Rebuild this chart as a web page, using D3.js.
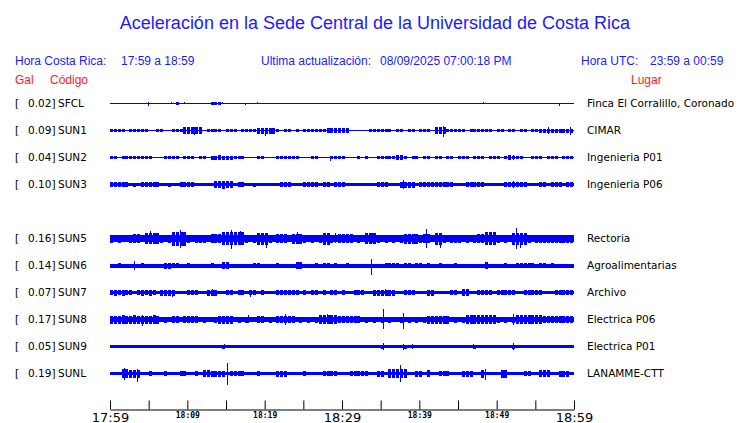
<!DOCTYPE html>
<html>
<head>
<meta charset="utf-8">
<script src="https://cdn.jsdelivr.net/npm/d3@7/dist/d3.min.js"></script>
<style>
  body { margin: 0; background: #fff; }
  svg { display: block; }
</style>
</head>
<body>
<script>
// station slots top to bottom (SUN4 has no trace, it leaves a gap)
const slots = ["SFCL", "SUN1", "SUN2", "SUN3", "SUN4", "SUN5", "SUN6", "SUN7", "SUN8", "SUN9", "SUNL"];
const codes = ["SFCL", "SUN1", "SUN2", "SUN3", "SUN5", "SUN6", "SUN7", "SUN8", "SUN9", "SUNL"];
const gal = [0.02, 0.09, 0.04, 0.10, 0.16, 0.14, 0.07, 0.17, 0.05, 0.19];
const places = ["Finca El Corralillo, Coronado", "CIMAR", "Ingenieria P01", "Ingenieria P06",
  "Rectoria", "Agroalimentarias", "Archivo", "Electrica P06", "Electrica P01", "LANAMME-CTT"];

// time axis, minutes after 17:59
const tickMinutes = [0, 5, 10, 15, 20, 25, 30, 35, 40, 45, 50, 55, 60];
const tickLabels = {0: "17:59", 10: "18:09", 20: "18:19", 30: "18:29", 40: "18:39", 50: "18:49", 60: "18:59"};
const bigTicks = [0, 30, 60];

// envelope of each trace, one value per 30 s (relative amplitude)
const envSFCL = [
  1,1,1,1,1,1,1,1,1,1, 1,1,1,1,1,1,1,3,1,1, 1,1,1,1,1,1,3,3,3,1, 1,1,1,1,1,1,1,1,1,1,
  1,1,1,1,1,1,1,1,1,1, 1,1,1,1,1,1,1,1,1,1, 1,1,1,1,1,1,1,1,1,1, 1,1,1,1,1,1,1,1,1,1,
  1,1,1,1,1,1,1,1,1,1, 1,1,1,1,1,1,1,1,1,1, 1,1,1,1,1,1,1,1,1,1, 1,1,1,1,1,1,1,1,1,1];
const envSUN1 = [
  3,3,3,3,1,3,3,3,3,3, 1,1,3,3,1,1,3,3,3,7, 7,7,7,7,1,3,3,3,3,1, 3,3,3,1,3,3,3,3,6,6,
  6,6,6,3,1,3,3,1,3,1, 3,3,3,3,3,3,5,5,5,5, 5,5,1,1,1,1,1,3,3,3, 3,3,3,1,3,3,1,3,3,1,
  3,3,3,1,7,7,7,3,3,3, 3,3,1,3,3,3,3,3,3,1, 3,3,1,3,3,1,3,3,1,3, 3,4,4,4,4,4,4,4,4,4];
const envSUN2 = [
  3,3,1,3,3,3,3,3,3,3, 3,1,1,1,3,3,3,3,1,3, 3,3,1,3,3,1,4,4,5,4, 4,4,3,3,3,1,1,1,3,3,
  1,1,1,3,3,3,3,3,3,1, 1,1,3,3,1,1,1,3,3,3, 3,1,1,1,3,1,3,1,1,3, 3,3,3,3,5,5,3,1,3,3,
  1,3,3,1,3,3,1,3,3,1, 3,3,3,1,3,3,3,1,3,3, 3,1,3,5,3,3,3,1,1,3, 3,3,1,3,3,3,1,3,3,3];
const envSUN3 = [
  5,5,5,5,5,3,4,3,5,5, 5,5,5,3,3,4,3,3,5,5, 5,5,3,3,3,3,3,7,7,8, 7,7,3,5,5,3,3,4,3,3,
  3,3,3,3,5,5,5,3,3,3, 5,5,5,5,3,5,5,3,5,5, 5,3,3,3,3,3,3,3,3,5, 5,5,3,3,3,6,6,6,6,3,
  5,5,5,5,5,5,5,5,5,3, 3,3,5,5,5,5,5,3,3,3, 3,3,5,5,5,5,5,5,3,3, 3,5,5,3,5,5,5,3,5,5];
const envSUN5 = [
  8,7,8,7,7,8,9,9,7,11, 11,11,11,8,7,8,14,14,14,14, 8,7,8,8,8,7,9,9,9,13, 13,13,13,13,13,8,7,8,12,12,
  12,8,7,9,9,9,7,10,10,10, 8,7,8,7,8,12,12,8,7,9, 9,9,9,7,8,7,11,11,11,8, 7,8,7,8,7,8,10,10,10,10,
  8,9,9,7,12,12,8,7,8,8, 8,7,8,7,8,9,9,13,13,13, 8,7,8,7,12,12,12,12,8,7, 8,8,8,8,8,8,8,8,8,8];
const envSUN6 = [
  4,4,5,4,4,4,4,4,5,4, 4,4,4,4,6,6,5,5,4,4, 5,4,4,4,4,4,5,4,4,7, 7,4,4,4,4,4,4,5,5,4,
  4,4,4,5,4,4,4,4,7,7, 4,4,4,5,4,5,5,4,5,4, 4,5,4,4,4,4,4,4,4,4, 4,5,5,5,5,4,5,5,4,5,
  5,4,5,4,4,5,4,4,4,5, 4,4,4,4,4,4,4,7,4,4, 4,4,5,4,4,5,5,5,5,5, 4,5,5,4,5,4,4,4,4,4];
const envSUN7 = [
  5,6,5,6,5,5,3,5,6,5, 6,5,3,6,6,6,6,3,3,3, 5,5,5,3,3,6,6,6,3,3, 5,5,3,5,5,3,5,5,3,5,
  3,3,3,5,5,5,5,5,5,3, 5,3,5,5,3,5,3,5,5,3, 5,3,3,5,5,5,3,3,6,6, 6,6,6,6,3,3,5,5,5,3,
  3,3,6,6,3,3,3,3,5,5, 3,7,7,3,3,5,5,5,5,3, 5,5,5,5,5,3,3,5,5,5, 5,5,3,3,3,5,5,5,5,5];
const envSUN8 = [
  8,8,8,9,8,8,9,8,8,8, 8,9,8,5,6,5,7,7,5,7, 7,7,7,5,6,5,5,6,8,8, 8,8,5,6,5,6,5,5,7,7,
  5,6,5,7,7,7,7,7,5,6, 5,6,5,6,9,9,9,9,9,7, 7,7,7,7,7,5,6,5,6,5, 6,5,6,5,5,6,5,6,5,6,
  5,6,8,8,8,8,8,8,5,6, 5,6,9,9,9,9,9,9,9,9, 6,5,6,5,6,9,9,9,9,9, 9,9,7,7,7,7,7,7,7,7];
const envSUN9 = [
  3,3,3,3,3,3,3,3,3,3, 3,3,3,3,3,3,3,3,3,3, 3,3,3,3,3,3,3,3,3,4, 3,3,3,3,3,3,3,3,3,3,
  3,3,3,3,3,3,3,3,3,3, 3,3,3,3,3,3,3,3,3,3, 3,3,3,3,3,3,3,3,3,3, 4,3,3,3,3,3,4,3,3,3,
  3,3,3,3,3,3,3,3,3,3, 3,3,3,3,4,3,3,3,3,3, 3,3,3,3,4,3,3,3,3,3, 3,3,3,3,3,3,3,3,3,3];
const envSUNL = [
  3,3,3,9,9,8,8,8,3,3, 5,3,3,3,5,3,3,3,5,5, 3,3,5,3,7,7,6,6,6,6, 3,5,5,5,5,3,3,3,5,3,
  3,3,3,6,6,6,3,3,3,3, 5,3,3,3,3,5,5,5,5,3, 3,3,5,5,5,5,5,3,3,6, 6,3,9,9,9,9,9,3,3,6,
  6,3,7,3,3,5,5,5,3,3, 3,6,6,6,3,3,8,3,3,3, 3,8,8,3,3,3,3,5,5,3, 3,7,7,7,3,3,6,6,6,3];

// isolated peaks: [minute, up, down]
const pkSFCL = [[4.95,4,4],[7.85,3,1],[9.6,3,1],[14.5,3,1],[17.5,1,3],[19.0,4,1],[48.2,3,1],[58.0,1,4]];
const pkSUN1 = [[10.8,8,9],[20.1,3,10],[43.1,10,12],[56.7,7,7],[59.5,7,8]];
const pkSUN2 = [[28.5,4,6],[52.1,5,5]];
const pkSUN3 = [[14.7,8,9],[37.9,9,9],[52.1,7,7]];
const pkSUN5 = [[5.2,16,10],[9.1,18,18],[15.65,18,20],[16.8,16,10],[20.2,10,18],[24.2,14,8],[29.1,12,8],
  [33.9,12,9],[40.9,20,18],[42.7,10,18],[48.5,14,9],[52.5,22,20],[53.0,10,18]];
const pkSUN6 = [[3.1,9,9],[14.5,8,6],[33.8,14,18],[48.8,7,7]];
const pkSUN7 = [[7.98,5,8],[13.2,8,5],[18.1,5,8],[35.6,7,5]];
const pkSUN8 = [[4.1,9,12],[17.9,9,6],[22.6,11,10],[28.0,11,8],[35.3,21,19],[37.9,14,18],[52.1,12,10]];
const pkSUN9 = [[14.7,5,5],[35.3,7,7],[37.9,6,6],[39.1,5,5],[47.0,5,5],[52.1,7,7]];
const pkSUNL = [[1.8,12,12],[3.5,10,16],[15.1,22,22],[37.5,18,16],[48.5,10,12]];

const envs = [envSFCL, envSUN1, envSUN2, envSUN3, envSUN5, envSUN6, envSUN7, envSUN8, envSUN9, envSUNL];
const peaks = [pkSFCL, pkSUN1, pkSUN2, pkSUN3, pkSUN5, pkSUN6, pkSUN7, pkSUN8, pkSUN9, pkSUNL];

const width = 740, height = 423;
const blue = "#0000ff", textBlue = "#1a1aff", red = "#ff1a1a";

const svg = d3.select("body").append("svg")
  .attr("width", width)
  .attr("height", height);

const x = d3.scaleLinear().domain([0, 60]).range([110, 574]);
const row = d3.scalePoint().domain(slots).range([103.5, 373.5]);
const amp = d3.scaleLinear().domain([0, 2]).range([0, 1]);

// title and header
svg.append("text")
  .attr("x", 375).attr("y", 29)
  .attr("text-anchor", "middle")
  .style("font-family", "Liberation Sans, Arial, sans-serif")
  .style("font-size", "18px")
  .attr("fill", textBlue)
  .text("Aceleración en la Sede Central de la Universidad de Costa Rica");

const header = [
  [15, "Hora Costa Rica:"], [121, "17:59 a 18:59"],
  [261, "Ultima actualización:"], [380, "08/09/2025 07:00:18 PM"],
  [581, "Hora UTC:"], [650, "23:59 a 00:59"]
];
svg.selectAll("text.hdr").data(header).enter().append("text")
  .attr("class", "hdr")
  .attr("x", d => d[0]).attr("y", 65)
  .style("font-family", "Liberation Sans, Arial, sans-serif")
  .style("font-size", "12px")
  .attr("fill", textBlue)
  .text(d => d[1]);

const sub = [[15, "Gal"], [50, "Código"], [631, "Lugar"]];
svg.selectAll("text.sub").data(sub).enter().append("text")
  .attr("class", "sub")
  .attr("x", d => d[0]).attr("y", 84)
  .style("font-family", "Liberation Sans, Arial, sans-serif")
  .style("font-size", "12px")
  .attr("fill", red)
  .text(d => d[1]);

// traces: steady noise band + one narrow stroke per 30 s bin + isolated peaks
const lblFont = "DejaVu Sans, Verdana, sans-serif";
const binW = x(0.5) - x(0);

codes.forEach((code, k) => {
  const cy = row(code);
  const env = envs[k];
  const base = d3.min(env);

  svg.append("rect")
    .attr("x", x(0)).attr("width", x(60) - x(0))
    .attr("y", cy - amp(base)).attr("height", 2 * amp(base))
    .attr("fill", blue)
    .attr("shape-rendering", "crispEdges");

  const bins = env.map((v, i) => ({t: i * 0.5, v})).filter(d => d.v > base);
  svg.selectAll(null).data(bins).enter().append("rect")
    .attr("x", d => Math.round(x(d.t)))
    .attr("width", Math.round(binW) - 1)
    .attr("y", d => cy - amp(d.v))
    .attr("height", d => 2 * amp(d.v))
    .attr("fill", blue)
    .attr("shape-rendering", "crispEdges");

  svg.selectAll(null).data(peaks[k]).enter().append("line")
    .attr("x1", d => Math.round(x(d[0])) + 0.5)
    .attr("x2", d => Math.round(x(d[0])) + 0.5)
    .attr("y1", d => cy - amp(d[1]))
    .attr("y2", d => cy + amp(d[2]))
    .attr("stroke", blue)
    .attr("stroke-width", 1)
    .attr("shape-rendering", "crispEdges");

  const ty = cy + 3.5;
  const g = svg.append("g")
    .style("font-family", lblFont)
    .style("font-size", "10.5px")
    .attr("fill", "#000");
  g.append("text").attr("x", 15).attr("y", ty).text("[");
  g.append("text").attr("x", 55.5).attr("y", ty).attr("text-anchor", "end").text(gal[k].toFixed(2) + "]");
  g.append("text").attr("x", 58).attr("y", ty).text(code);
  g.append("text").attr("x", 587).attr("y", ty).text(places[k]);
});

// time axis
const axis = d3.axisBottom(x)
  .tickValues(tickMinutes)
  .tickSize(-9)
  .tickSizeOuter(0)
  .tickPadding(4)
  .tickFormat(d => tickLabels[d] || "");

const ax = svg.append("g")
  .attr("transform", "translate(0,409.5)")
  .call(axis);

ax.select(".domain").attr("stroke", "#000");
ax.selectAll(".tick line").attr("stroke", "#000");
ax.selectAll(".tick text")
  .attr("fill", "#000")
  .attr("dy", null)
  .attr("y", d => bigTicks.includes(d) ? 12 : 8.5)
  .style("font-family", d => bigTicks.includes(d) ? lblFont : "DejaVu Sans Mono, monospace")
  .style("font-weight", d => bigTicks.includes(d) ? "normal" : "bold")
  .style("font-size", d => bigTicks.includes(d) ? "13px" : "8px");
</script>
</body>
</html>
